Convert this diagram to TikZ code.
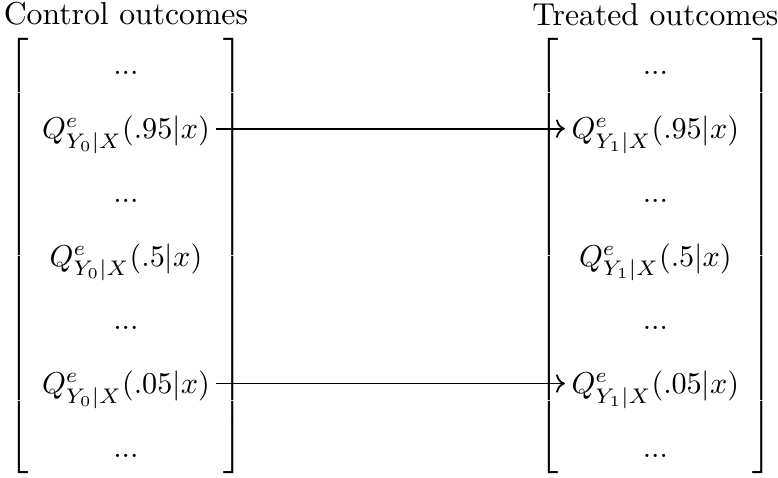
\documentclass[tikz,border=0pt]{standalone}
\usepackage{amsmath,amssymb}
\usepackage{tikz}
\usetikzlibrary{positioning, arrows.meta, matrix}

\begin{document}
\begin{tikzpicture}[
    outcomes/.style={matrix of math nodes, left delimiter={[}, right delimiter={]},
      inner xsep=1pt, inner ysep=0pt, row sep=1.7pt,
      nodes={inner sep=2pt, text height=11pt, text depth=4.4pt}},
    heading/.style={inner sep=1pt, font=\fontsize{10.5}{12}\selectfont},
    link/.style={->, semithick}]
  \useasboundingbox (-41.7pt,-73.2pt) rectangle (215.9pt,84.8pt);
  % Control outcomes
  \matrix[outcomes] (ctrl) at (0,0) {
    ... \\
    Q^e_{Y_0|X}(.95|x) \\
    ... \\
    Q^e_{Y_0|X}(.5|x) \\
    ... \\
    Q^e_{Y_0|X}(.05|x) \\
    ... \\
  };
  \node[heading, above=2pt of ctrl] (ctrltitle) {Control outcomes};
  % Treated outcomes
  \matrix[outcomes] (trt) at (175.3pt,0) {
    ... \\
    Q^e_{Y_1|X}(.95|x) \\
    ... \\
    Q^e_{Y_1|X}(.5|x) \\
    ... \\
    Q^e_{Y_1|X}(.05|x) \\
    ... \\
  };
  \node[heading, above=2pt of trt] (trttitle) {Treated outcomes};
  % Arrows
  \draw[link] (ctrl-2-1.east) -- (trt-2-1.west);
  \draw[link] (ctrl-6-1.east) -- (trt-6-1.west);
\end{tikzpicture}
\end{document}
